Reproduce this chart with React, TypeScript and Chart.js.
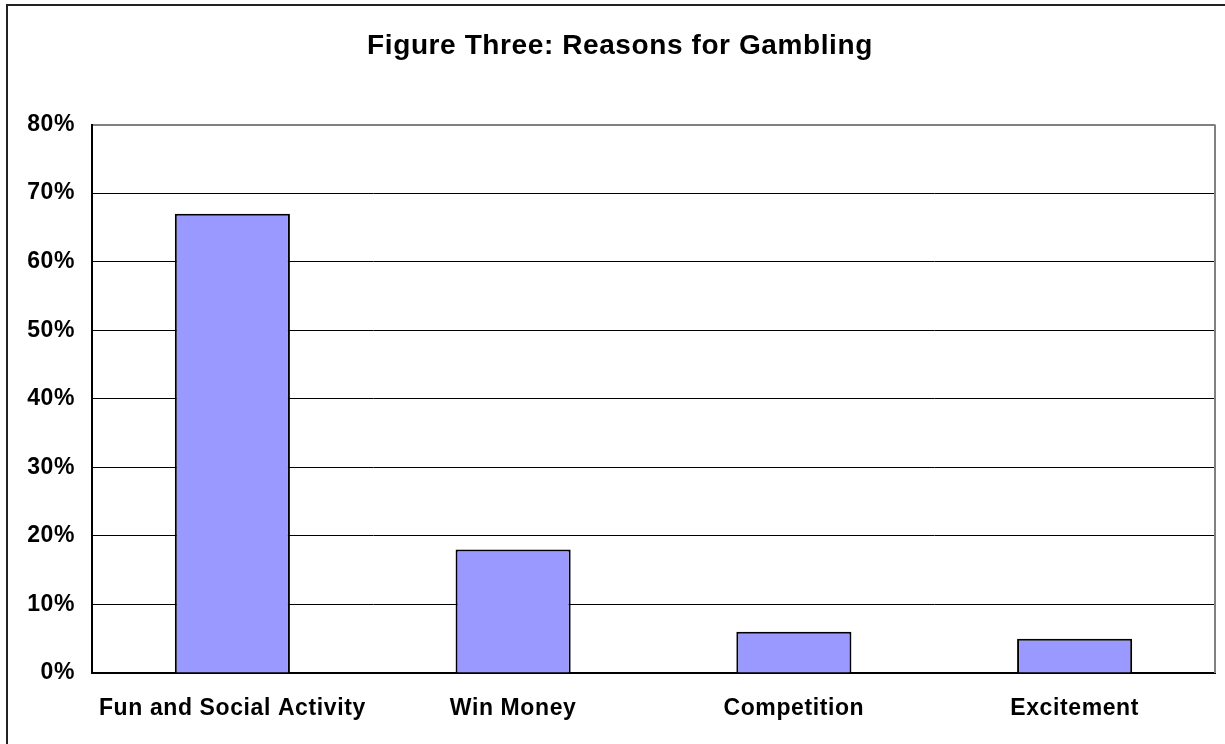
import React, { useEffect, useRef } from "react";
import { Chart, registerables } from "chart.js";

Chart.register(...registerables);

const categories = ["Fun and Social Activity", "Win Money", "Competition", "Excitement"];
const values = [67, 18, 6, 5];
const yTicks = [0, 10, 20, 30, 40, 50, 60, 70, 80];
const titleText = "Figure Three: Reasons for Gambling";

const FONT = "'Liberation Sans', Arial, sans-serif";

const frameRight = {
  id: "frameRight",
  beforeDraw(chart: any) {
    (chart.ctx as any).letterSpacing = "0.6px";
  },
  afterDatasetsDraw(chart: any) {
    const { ctx, chartArea } = chart;
    ctx.save();
    ctx.strokeStyle = "#808080";
    ctx.lineWidth = 2;
    ctx.beginPath();
    ctx.moveTo(chartArea.right, chartArea.top);
    ctx.lineTo(chartArea.right, chartArea.bottom);
    ctx.stroke();
    ctx.restore();
  },
};

export default function App() {
  const ref = useRef<HTMLCanvasElement | null>(null);

  useEffect(() => {
    if (!ref.current) return;
    const chart = new Chart(ref.current, {
      type: "bar",
      data: {
        labels: categories,
        datasets: [
          {
            data: values,
            backgroundColor: "#9999FF",
            borderColor: "#000000",
            borderWidth: 2,
            barPercentage: 0.41,
            categoryPercentage: 1,
          },
        ],
      },
      plugins: [frameRight],
      options: {
        responsive: false,
        animation: false,
        layout: { padding: { top: 0, left: 25, right: 25, bottom: 0 } },
        plugins: {
          legend: { display: false },
          tooltip: { enabled: false },
          title: {
            display: true,
            text: titleText,
            color: "#000",
            font: { family: FONT, size: 28, weight: "bold" },
            padding: { top: 29, bottom: 62 },
          },
        },
        scales: {
          x: {
            grid: { display: false, drawTicks: false },
            border: { display: true, color: "#000", width: 2 },
            ticks: {
              color: "#000",
              font: { family: FONT, size: 23, weight: "bold" },
              padding: 22,
            },
            afterFit: (scale: any) => {
              scale.height = 71;
            },
          },
          y: {
            min: 0,
            max: 80,
            afterBuildTicks: (scale: any) => {
              scale.ticks = yTicks.map((v) => ({ value: v }));
            },
            grid: {
              drawTicks: false,
              color: (ctx: any) => (ctx.tick && ctx.tick.value === 80 ? "#808080" : "#000"),
              lineWidth: (ctx: any) => (ctx.tick && ctx.tick.value === 80 ? 2 : 1),
            },
            border: { display: true, color: "#000", width: 2 },
            ticks: {
              color: "#000",
              font: { family: FONT, size: 23, weight: "bold" },
              padding: 17,
              callback: (v: any) => v + "%",
            },
            afterFit: (scale: any) => {
              scale.width = 67;
            },
          },
        },
      },
    });
    return () => chart.destroy();
  }, []);

  return (
    <div
      style={{
        position: "fixed",
        left: 0,
        top: 0,
        width: 1225,
        height: 744,
        overflow: "hidden",
        background: "#fff",
      }}
    >
      <div
        style={{
          position: "absolute",
          left: 6,
          top: 4,
          width: 1260,
          height: 800,
          border: "2px solid #222",
          boxSizing: "border-box",
        }}
      />
      <canvas
        ref={ref}
        width={1240}
        height={744}
        style={{ position: "absolute", left: 0, top: 0, width: 1240, height: 744 }}
      />
    </div>
  );
}
